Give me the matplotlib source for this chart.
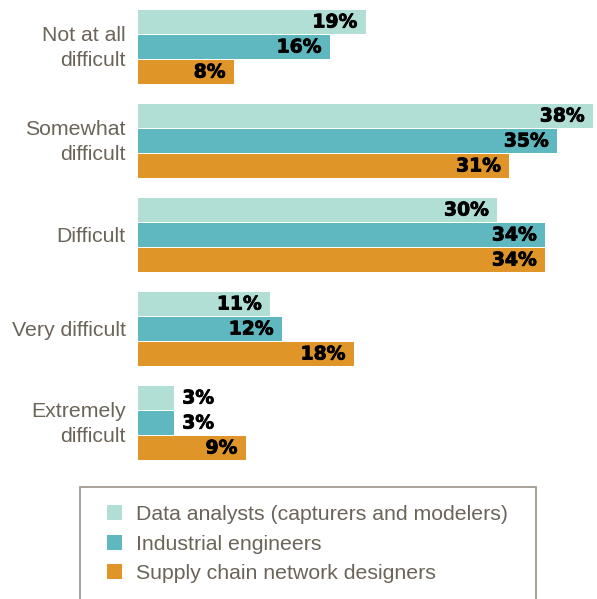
import numpy as np
import matplotlib.pyplot as plt
import matplotlib.patheffects as pe
from matplotlib.patches import Rectangle
from matplotlib.transforms import ScaledTranslation

categories = ['Not at all\ndifficult', 'Somewhat\ndifficult', 'Difficult',
              'Very difficult', 'Extremely\ndifficult']
series_names = ['Data analysts (capturers and modelers)', 'Industrial engineers',
                'Supply chain network designers']
data_analysts = [19, 38, 30, 11, 3]
industrial_eng = [16, 35, 34, 12, 3]
supply_chain = [8, 31, 34, 18, 9]

colors = ['#b1dfd5', '#5fb7bf', '#df9527']
text_col = '#6b6459'

W, H = 597, 599
fig = plt.figure(figsize=(W / 100, H / 100), dpi=100)
ax = fig.add_axes([138 / W, 1 - 461 / H, 455 / W, 451 / H])

group_pitch, bar_pitch, bar_h = 94, 25, 24
series = [data_analysts, industrial_eng, supply_chain]
for j, vals in enumerate(series):
    y = np.arange(len(categories)) * group_pitch + j * bar_pitch + bar_h / 2
    ax.barh(y, vals, height=bar_h, color=colors[j], label=series_names[j])
    for yy, v in zip(y, vals):
        inside = v >= 5
        ax.annotate(f'{v}%', (v, yy), xytext=(-6 if inside else 6, 0),
                    textcoords='offset points', ha='right' if inside else 'left',
                    va='center', fontsize=13.5, fontweight='bold',
                    family='DejaVu Sans', color='black',
                    path_effects=[pe.withStroke(linewidth=0.6, foreground='black')])

ax.set_xlim(0, 38)
ax.set_ylim(451, 0)
centers = np.arange(len(categories)) * group_pitch + bar_pitch + bar_h / 2
ax.set_yticks(centers)
ax.set_yticklabels(categories, fontsize=15.3, color=text_col, family='Liberation Sans',
                   linespacing=1.38)
ax.tick_params(axis='y', length=0, pad=9)
# nudge the two-line labels up a little
for lab in ax.get_yticklabels():
    if '\n' in lab.get_text():
        lab.set_transform(lab.get_transform() + ScaledTranslation(0, 3 / 72, fig.dpi_scale_trans))
ax.set_xticks([])
for s in ax.spines.values():
    s.set_visible(False)

fig.patches.append(Rectangle((80 / W, -0.1), 456 / W, 0.1 + 1 - 487 / H,
                             transform=fig.transFigure, facecolor='none',
                             edgecolor='#a19b92', linewidth=1.3))
fig.legend(loc='upper left', bbox_to_anchor=(107 / W, 1 - 505 / H), frameon=False,
           borderpad=0, borderaxespad=0, handlelength=0.72, handleheight=0.72,
           handletextpad=0.66, labelspacing=0.5,
           prop={'family': 'Liberation Sans', 'size': 15.3}, labelcolor=text_col)

fig.savefig('out.png', dpi=100)
